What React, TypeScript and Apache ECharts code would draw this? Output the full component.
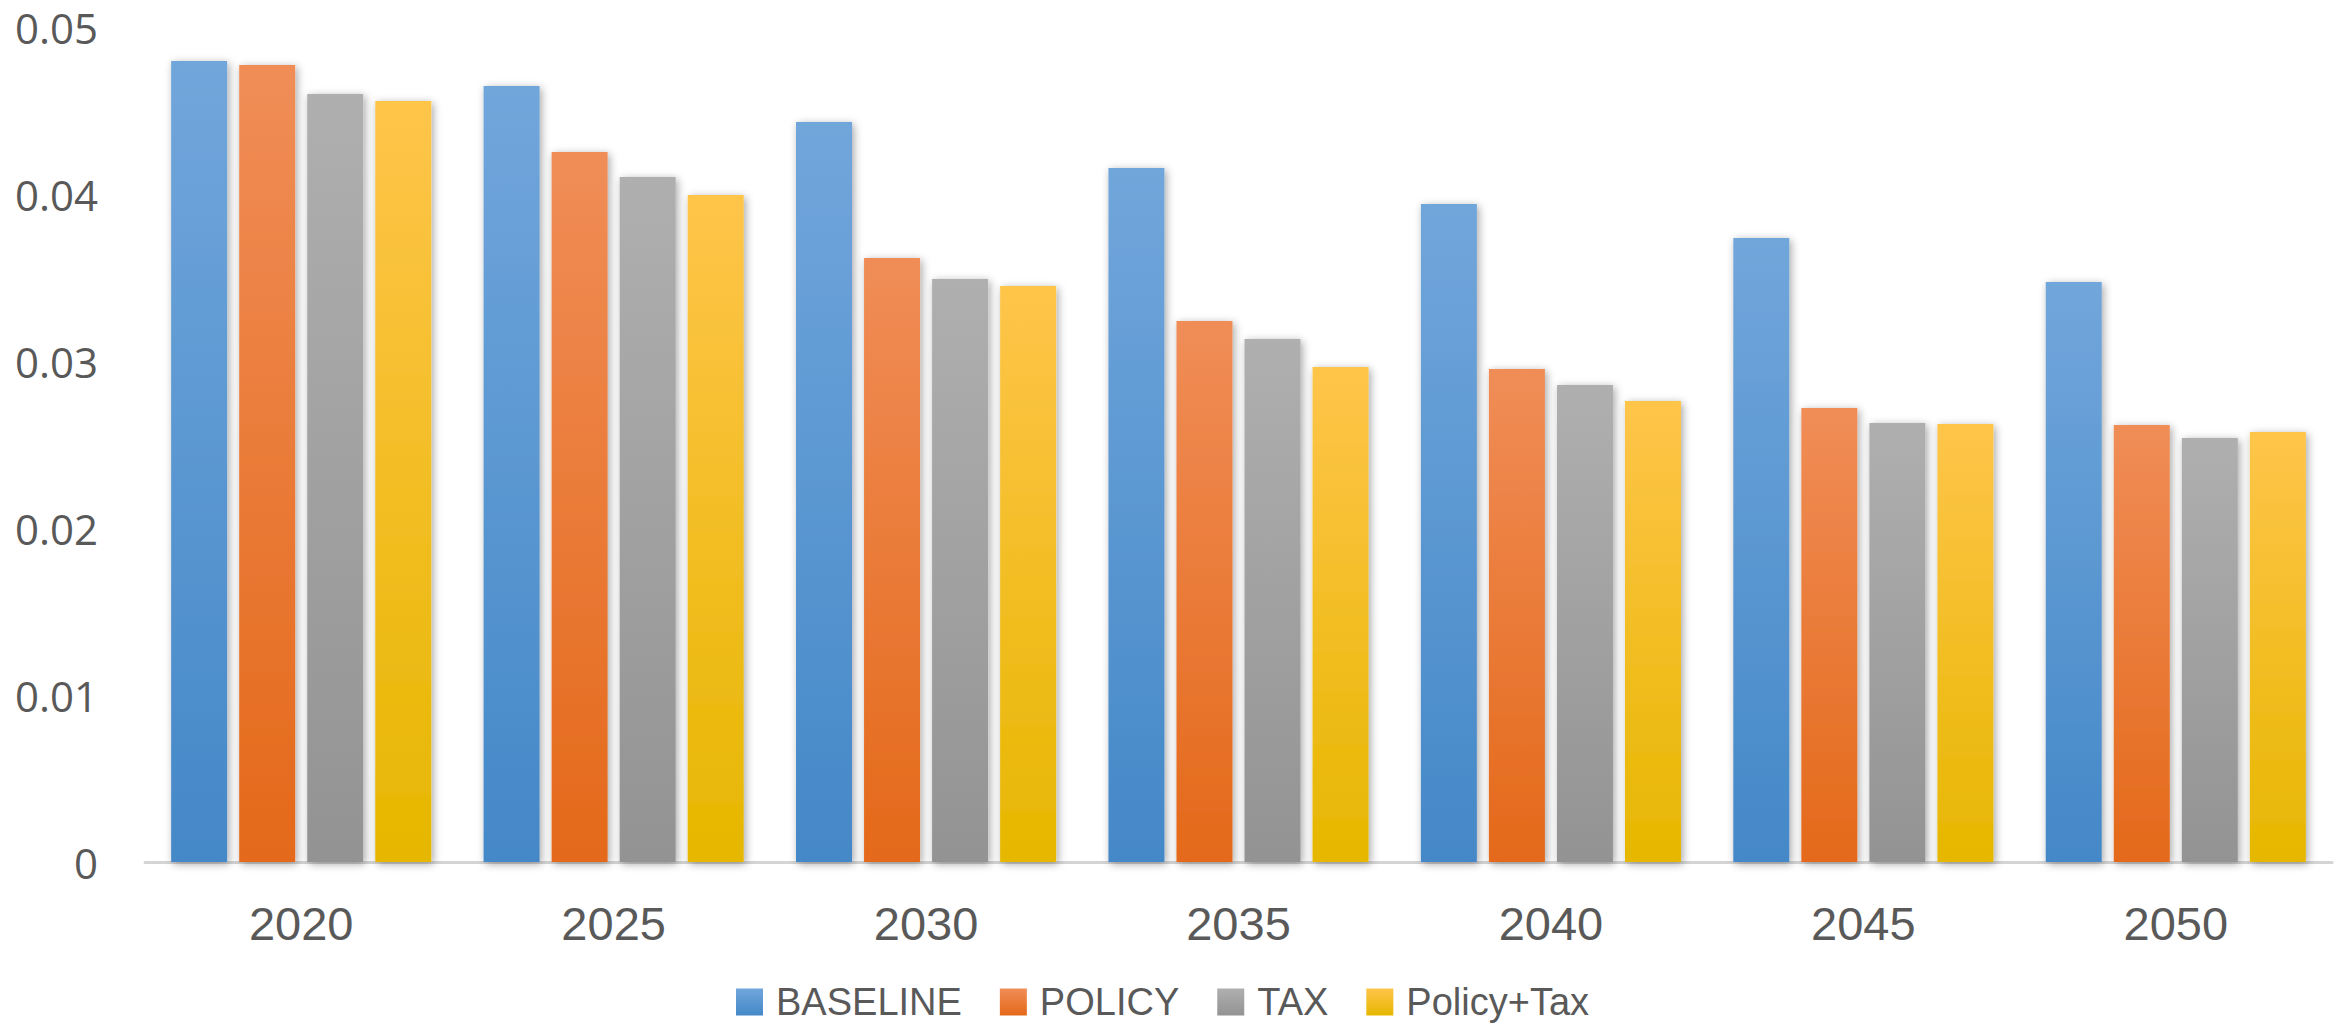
import React, { useEffect, useRef } from "react";
import * as echarts from "echarts";

// Years on the category axis
const years = ["2020", "2025", "2030", "2035", "2040", "2045", "2050"];

// Scenario series values
const baseline = [0.04796, 0.04647, 0.04431, 0.04156, 0.0394, 0.03737, 0.03473];
const policy = [0.04772, 0.04251, 0.03617, 0.0324, 0.02952, 0.02719, 0.02617];
const tax = [0.04599, 0.04102, 0.03491, 0.03132, 0.02856, 0.02629, 0.02539];
const policyTax = [0.04557, 0.03994, 0.03449, 0.02964, 0.0276, 0.02623, 0.02575];

const seriesNames = ["BASELINE", "POLICY", "TAX", "Policy+Tax"];
const seriesData = [baseline, policy, tax, policyTax];

// Top / bottom colours of each bar's vertical gradient
const gradientStops: [string, string][] = [
  ["#71A6DB", "#4488C8"],
  ["#F08D57", "#E4691A"],
  ["#AFAFAF", "#939393"],
  ["#FEC54A", "#E6B700"],
];

const App: React.FC = () => {
  const ref = useRef<HTMLDivElement>(null);

  useEffect(() => {
    if (!ref.current) return;
    const chart = echarts.init(ref.current, undefined, { renderer: "svg" });

    const series = seriesNames.map((name, i) => ({
      name,
      type: "bar" as const,
      data: seriesData[i],
      barWidth: 56,
      barGap: "21.5%",
      itemStyle: {
        color: new echarts.graphic.LinearGradient(0, 0, 0, 1, [
          { offset: 0, color: gradientStops[i][0] },
          { offset: 1, color: gradientStops[i][1] },
        ]),
        shadowColor: "rgba(0,0,0,0.35)",
        shadowBlur: 9,
        shadowOffsetX: 2,
        shadowOffsetY: 2,
      },
    }));

    chart.setOption({
      animation: false,
      backgroundColor: "#ffffff",
      grid: { left: 145, right: 4, top: 27, bottom: 165, containLabel: false },
      legend: {
        data: seriesNames,
        left: 731,
        top: 978,
        icon: "rect",
        itemWidth: 27,
        itemHeight: 27,
        itemGap: 38,
        textStyle: {
          fontFamily: "Liberation Sans, Arial, sans-serif",
          fontSize: 38,
          color: "#595959",
          padding: [0, 0, 0, 8],
        },
      },
      xAxis: {
        type: "category",
        data: years,
        axisTick: { show: false },
        axisLine: { lineStyle: { color: "#D4D4D4", width: 3 } },
        axisLabel: {
          margin: 38,
          fontFamily: "Liberation Sans, Arial, sans-serif",
          fontSize: 47,
          color: "#595959",
        },
      },
      yAxis: {
        type: "value",
        min: 0,
        max: 0.05,
        interval: 0.01,
        splitLine: { show: false },
        axisLine: { show: false },
        axisTick: { show: false },
        axisLabel: {
          margin: 47,
          fontFamily: "Open Sans, sans-serif",
          fontSize: 42,
          color: "#595959",
        },
      },
      series,
    });

    return () => chart.dispose();
  }, []);

  return <div ref={ref} style={{ width: 2336, height: 1027, position: "absolute", left: 0, top: 0 }} />;
};

export default App;
